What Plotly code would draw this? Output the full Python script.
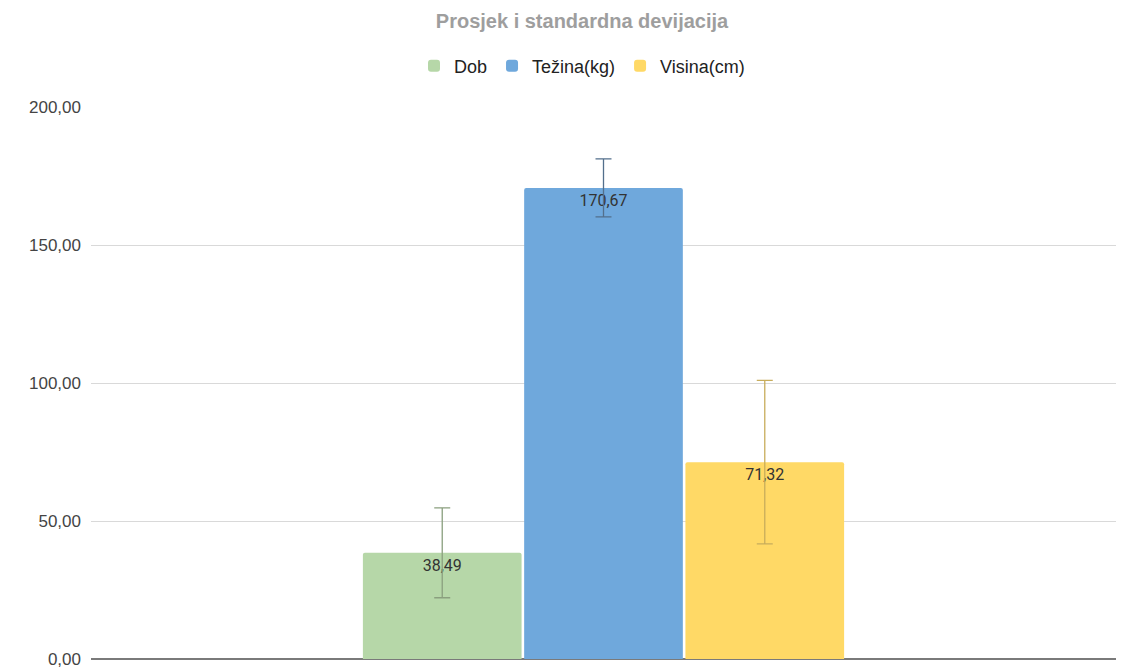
import plotly.graph_objects as go

categories = ["Prosjek"]
series_names = ["Dob", "Težina(kg)", "Visina(cm)"]
means = [38.49, 170.67, 71.32]
std_devs = [16.3, 10.5, 29.6]
bar_colors = ["#b6d7a8", "#6fa8dc", "#ffd966"]
err_colors = ["#8a9f7e", "#536f8c", "#c8ad5c"]
y_ticks = [0, 50, 100, 150, 200]

FONT = "Arial, Liberation Sans, sans-serif"

fig = go.Figure()
for name, m, s, c, ec in zip(series_names, means, std_devs, bar_colors, err_colors):
    fig.add_trace(go.Bar(
        x=categories, y=[m], name=name,
        marker=dict(color=c, line=dict(width=0), cornerradius=2),
        error_y=dict(type="data", array=[s], visible=True, color=ec, thickness=1.3, width=8),
        texttemplate="%{y:.2f}", textposition="inside", insidetextanchor="end",
        textangle=0, constraintext="none",
        textfont=dict(family="Roboto, Arial, sans-serif", size=16, color="#333"),
    ))

W, H = 1117, 663
fig.update_layout(
    width=W, height=H,
    paper_bgcolor="white", plot_bgcolor="white",
    separators=", ",
    margin=dict(l=83, r=9, t=99, b=H - 651, autoexpand=False),
    barmode="group", bargap=0.528, bargroupgap=0.016,
    title=dict(text="<b>Prosjek i standardna devijacija</b>", x=574 / W, xref="container", xanchor="center",
               y=1 - 13 / H, yref="container", yanchor="middle",
               font=dict(family=FONT, size=20, color="#9e9e9e")),
    legend=dict(orientation="h", x=574 / W, xref="container", xanchor="center", y=1 - 58 / H, yref="container",
                yanchor="middle", font=dict(family=FONT, size=18, color="#222"),
                itemwidth=30, traceorder="normal"),
    showlegend=True,
    xaxis=dict(type="category", range=[-0.5, 0.5], showticklabels=False, showgrid=False,
               zeroline=False, showline=False, ticks="", automargin=False),
    yaxis=dict(range=[0, 200], tickvals=y_ticks, tickformat=".2f", showgrid=True, gridcolor="#d9d9d9",
               gridwidth=1, zeroline=True, zerolinecolor="#7a7a7a", zerolinewidth=2, showline=False,
               ticks="", ticklabelstandoff=9, automargin=False,
               tickfont=dict(family=FONT, size=17, color="#444")),
)

fig.write_html("out.html")
